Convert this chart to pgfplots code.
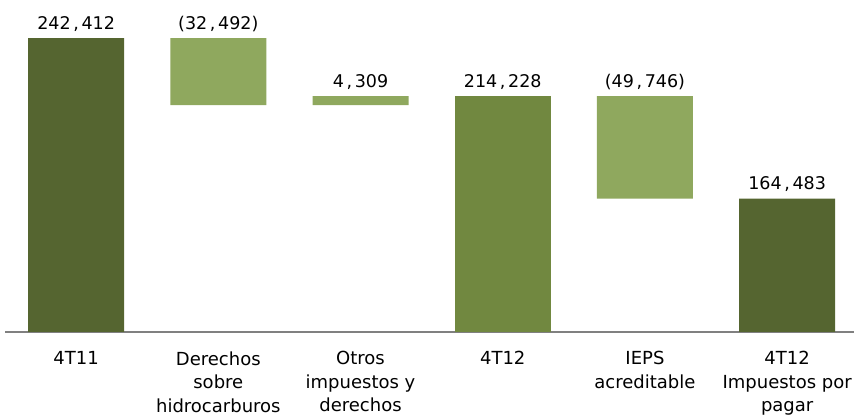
\documentclass[border=0pt]{standalone}
\usepackage{fontspec}
\setmainfont{DejaVu Sans}
\usepackage{pgfplots}
\pgfplotsset{compat=1.18}
\definecolor{darkol}{RGB}{85,101,48}
\definecolor{medol}{RGB}{113,136,64}
\definecolor{lightol}{RGB}{143,168,94}
\definecolor{axgray}{RGB}{128,128,128}
\newcommand\cma{\makebox[0.62em]{,}}
\pgfplotsset{common/.style={
  at={(5bp,85.3bp)}, anchor=south west,
  scale only axis, width=849bp, height=329.9bp,
  xmin=-0.5, xmax=5.47, ymin=100000, ymax=260000,
  enlargelimits=false}}
\begin{document}
\begin{tikzpicture}
\useasboundingbox (0,0) rectangle (854bp,417bp);
\begin{axis}[common,
  ybar stacked, bar width=96bp,
  axis x line*=bottom, axis y line=none,
  x axis line style={axgray, line width=2bp, -},
  major tick length=0pt,
  ytick=\empty,
  xtick={0,1,2,3,4,5},
  xticklabels={4T11, {Derechos\\sobre\\hidrocarburos}, {Otros\\impuestos y\\derechos}, 4T12, {IEPS\\acreditable}, {4T12\\Impuestos por\\pagar}},
  xticklabel style={align=center, anchor=north, inner sep=0pt, yshift=-19.5bp, font=\fontsize{18bp}{23.5bp}\selectfont},
]
\addplot[draw=none, fill=none] coordinates {(0,0) (1,209920) (2,209920) (3,0) (4,164482) (5,0)};
\addplot[draw=none, fill=darkol] coordinates {(0,242412) (1,0) (2,0) (3,0) (4,0) (5,164483)};
\addplot[draw=none, fill=medol] coordinates {(0,0) (1,0) (2,0) (3,214228) (4,0) (5,0)};
\addplot[draw=none, fill=lightol] coordinates {(0,0) (1,32492) (2,4308) (3,0) (4,49746) (5,0)};
\end{axis}
\begin{axis}[common, hide axis, clip=false]
\addplot[draw=none, mark=none, nodes near coords, point meta=explicit symbolic,
  nodes near coords style={anchor=base, yshift=9bp, inner sep=0pt, text=black, font=\fontsize{17.5bp}{20bp}\selectfont}]
  coordinates {(0,242412) [242\cma412] (1,242412) [(32\cma492)] (2,214228) [4\cma309] (3,214228) [214\cma228] (4,214228) [(49\cma746)] (5,164483) [164\cma483]};
\end{axis}
\end{tikzpicture}
\end{document}
